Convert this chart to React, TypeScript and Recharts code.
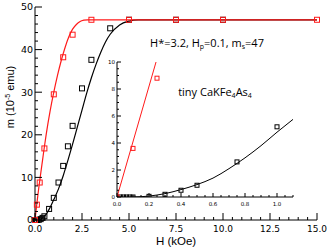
import React from "react";
import { ComposedChart, Line, Scatter, XAxis, YAxis } from "recharts";

// fitted curves (H in kOe, m in 1e-5 emu)
const redFitH = [0, 0.1, 0.2, 0.3, 0.4, 0.5, 0.6, 0.8, 1.0, 1.2, 1.4, 1.6, 1.8, 2.0, 2.2, 2.4, 2.6, 2.8, 3.0, 15];
const redFitM = [0, 3.9, 7.5, 10.8, 14, 17.2, 20.2, 25.5, 30, 34, 37.5, 40.5, 43, 44.8, 45.9, 46.6, 46.9, 47, 47, 47];

const blackFitH = [0, 0.1, 0.2, 0.4, 0.6, 0.8, 1.0, 1.25, 1.5, 1.75, 2.0, 2.25, 2.5, 2.75, 3.0, 3.25, 3.5, 3.75, 4.0, 4.5, 5.0, 5.5, 6.0, 15];
const blackFitM = [0, 0, 0.07, 0.55, 1.4, 2.9, 4.8, 7.3, 10.4, 14, 17.8, 21.8, 25.8, 29.8, 33.4, 36.6, 39.4, 41.8, 43.6, 45.8, 46.7, 47, 47, 47];

// measured points
const redPtsH = [0, 0.1, 0.25, 0.5, 1.0, 1.5, 2.0, 3.0, 5.0, 7.5, 10.0, 15.0];
const redPtsM = [0, 3.6, 8.8, 16.8, 29.5, 38.2, 43.5, 47, 47, 47, 47, 47];

const blackPtsH = [0.02, 0.04, 0.06, 0.08, 0.1, 0.2, 0.3, 0.4, 0.5, 0.75, 1.0, 1.25, 1.5, 1.75, 2.0, 2.5, 3.0, 4.0, 5.0, 7.5, 10.0];
const blackPtsM = [0, 0, 0, 0, 0, 0.05, 0.2, 0.5, 0.87, 2.6, 5.2, 8.8, 12.7, 17.3, 22.1, 30.9, 37.6, 45, 47, 47, 47];

// inset curves (low field zoom)
const insetRedH = [0, 0.25];
const insetRedM = [0, 10.25];
const insetBlackH = [0, 0.1, 0.2, 0.3, 0.4, 0.5, 0.6, 0.7, 0.8, 0.9, 1.0, 1.1];
const insetBlackM = [0, 0, 0.07, 0.25, 0.55, 0.92, 1.4, 2.1, 2.9, 3.8, 4.8, 5.75];

// ticks
const xMajor = [0, 2.5, 5, 7.5, 10, 12.5, 15];
const xTicks = [0, 0.5, 1, 1.5, 2, 2.5, 3, 3.5, 4, 4.5, 5, 5.5, 6, 6.5, 7, 7.5, 8, 8.5, 9, 9.5, 10, 10.5, 11, 11.5, 12, 12.5, 13, 13.5, 14, 14.5, 15];
const yMajor = [0, 10, 20, 30, 40, 50];
const yTicks = [0, 2, 4, 6, 8, 10, 12, 14, 16, 18, 20, 22, 24, 26, 28, 30, 32, 34, 36, 38, 40, 42, 44, 46, 48, 50];

const ixMajor = [0, 0.2, 0.4, 0.6, 0.8, 1.0];
const ixTicks = [0, 0.05, 0.1, 0.15, 0.2, 0.25, 0.3, 0.35, 0.4, 0.45, 0.5, 0.55, 0.6, 0.65, 0.7, 0.75, 0.8, 0.85, 0.9, 0.95, 1.0, 1.05, 1.1];
const iyMajor = [0, 2, 4, 6, 8, 10];
const iyTicks = [0, 0.5, 1, 1.5, 2, 2.5, 3, 3.5, 4, 4.5, 5, 5.5, 6, 6.5, 7, 7.5, 8, 8.5, 9, 9.5, 10];

const zip = (h: number[], m: number[]) => h.map((v, i) => ({ h: v, m: m[i] }));

const redFit = zip(redFitH, redFitM);
const blackFit = zip(blackFitH, blackFitM);
const redPts = zip(redPtsH, redPtsM);
const blackPts = zip(blackPtsH, blackPtsM);
const insetRed = zip(insetRedH, insetRedM);
const insetBlack = zip(insetBlackH, insetBlackM);
const insetRedPts = redPts.filter((d) => d.h <= 1.1 && d.m <= 10);
const insetBlackPts = blackPts.filter((d) => d.h <= 1.1 && d.m <= 10);

const RED = "#ff1a1a";
const TICK_FONT = "DejaVu Sans";

type Side = "bottom" | "top" | "left" | "right";

function makeTick(side: Side, majors: number[], bigLen: number, smallLen: number, fontSize: number, fmt?: (v: number) => string) {
  return (p: any) => {
    const v = p.payload.value;
    const isMajor = majors.some((t) => Math.abs(t - v) < 1e-6);
    const len = isMajor ? bigLen : smallLen;
    const { x, y } = p;
    let line;
    if (side === "bottom") line = <line x1={x} x2={x} y1={y} y2={y - len} stroke="#000" />;
    else if (side === "top") line = <line x1={x} x2={x} y1={y} y2={y + len} stroke="#000" />;
    else if (side === "left") line = <line x1={x} x2={x + len} y1={y} y2={y} stroke="#000" />;
    else line = <line x1={x} x2={x - len} y1={y} y2={y} stroke="#000" />;
    let label = null;
    if (isMajor && fmt) {
      if (side === "bottom")
        label = (
          <text x={x} y={y + fontSize + 3} textAnchor="middle" fontSize={fontSize} fontFamily={TICK_FONT} fill="#000">
            {fmt(v)}
          </text>
        );
      else if (side === "left")
        label = (
          <text x={x - 2} y={y + fontSize * 0.36} textAnchor="end" fontSize={fontSize} fontFamily={TICK_FONT} fill="#000">
            {fmt(v)}
          </text>
        );
    }
    return (
      <g>
        {line}
        {label}
      </g>
    );
  };
}

const square = (color: string, s: number) => (p: any) =>
  <rect x={p.cx - s / 2} y={p.cy - s / 2} width={s} height={s} fill="none" stroke={color} strokeWidth={1} />;

export default function App() {
  return (
    <div style={{ position: "absolute", left: 0, top: 0, width: 327, height: 249, background: "#fff" }}>
      <ComposedChart width={327} height={249} margin={{ top: 7, right: 10, left: 0, bottom: 0 }}>
        <XAxis
          xAxisId={0}
          dataKey="h"
          type="number"
          domain={[0, 15]}
          ticks={xTicks}
          interval={0}
          height={29}
          tickSize={0}
          tickMargin={0}
          tickLine={false}
          axisLine={{ stroke: "#000" }}
          tick={makeTick("bottom", xMajor, 7, 3, 9, (v) => v.toFixed(1))}
        />
        <XAxis
          xAxisId="top"
          orientation="top"
          type="number"
          domain={[0, 15]}
          ticks={xTicks}
          interval={0}
          height={0}
          tickSize={0}
          tickMargin={0}
          tickLine={false}
          axisLine={{ stroke: "#000" }}
          tick={makeTick("top", xMajor, 7, 3, 9)}
        />
        <YAxis
          yAxisId={0}
          dataKey="m"
          type="number"
          domain={[0, 50]}
          ticks={yTicks}
          interval={0}
          width={35}
          tickSize={0}
          tickMargin={0}
          tickLine={false}
          axisLine={{ stroke: "#000" }}
          tick={makeTick("left", yMajor, 7, 3, 9.5, (v) => String(v))}
        />
        <YAxis
          yAxisId="right"
          orientation="right"
          type="number"
          domain={[0, 50]}
          ticks={yTicks}
          interval={0}
          width={0}
          tickSize={0}
          tickMargin={0}
          tickLine={false}
          axisLine={{ stroke: "#000" }}
          tick={makeTick("right", yMajor, 7, 3, 9)}
        />
        <Line data={blackFit} dataKey="m" type="monotone" stroke="#000" strokeWidth={1.2} dot={false} isAnimationActive={false} />
        <Line data={redFit} dataKey="m" type="monotone" stroke={RED} strokeWidth={1.2} dot={false} isAnimationActive={false} />
        <Scatter data={blackPts} dataKey="m" shape={square("#000", 5)} isAnimationActive={false} />
        <Scatter data={redPts} dataKey="m" shape={square(RED, 5)} isAnimationActive={false} />
      </ComposedChart>

      <div style={{ position: "absolute", left: 100, top: 55 }}>
        <ComposedChart width={200} height={152} margin={{ top: 7, right: 7, left: 0, bottom: 0 }}>
          <XAxis
            xAxisId={0}
            dataKey="h"
            type="number"
            domain={[0, 1.1]}
            allowDataOverflow
            ticks={ixTicks}
            interval={0}
            height={10}
            tickSize={0}
            tickMargin={0}
            tickLine={false}
            axisLine={{ stroke: "#000" }}
            tick={makeTick("bottom", ixMajor, 4, 2, 5.5, (v) => v.toFixed(1))}
          />
          <XAxis
            xAxisId="top"
            orientation="top"
            type="number"
            domain={[0, 1.1]}
            ticks={ixTicks}
            interval={0}
            height={0}
            tickSize={0}
            tickMargin={0}
            tickLine={false}
            axisLine={{ stroke: "#000" }}
            tick={makeTick("top", ixMajor, 4, 2, 5.5)}
          />
          <YAxis
            yAxisId={0}
            dataKey="m"
            type="number"
            domain={[0, 10]}
            allowDataOverflow
            ticks={iyTicks}
            interval={0}
            width={17}
            tickSize={0}
            tickMargin={0}
            tickLine={false}
            axisLine={{ stroke: "#000" }}
            tick={makeTick("left", iyMajor, 4, 2, 5.5, (v) => String(v))}
          />
          <YAxis
            yAxisId="right"
            orientation="right"
            type="number"
            domain={[0, 10]}
            ticks={iyTicks}
            interval={0}
            width={0}
            tickSize={0}
            tickMargin={0}
            tickLine={false}
            axisLine={{ stroke: "#000" }}
            tick={makeTick("right", iyMajor, 4, 2, 5.5)}
          />
          <Line data={insetBlack} dataKey="m" type="monotone" stroke="#000" strokeWidth={1} dot={false} isAnimationActive={false} />
          <Line data={insetRed} dataKey="m" type="linear" stroke={RED} strokeWidth={1} dot={false} isAnimationActive={false} />
          <Scatter data={insetBlackPts} dataKey="m" shape={square("#000", 4)} isAnimationActive={false} />
          <Scatter data={insetRedPts} dataKey="m" shape={square(RED, 4)} isAnimationActive={false} />
        </ComposedChart>
      </div>

      <svg width={327} height={249} style={{ position: "absolute", left: 0, top: 0, pointerEvents: "none" }}>
        <text transform="translate(14,97) rotate(-90)" textAnchor="middle" fontSize={11} fontFamily="Liberation Sans">
          m (10<tspan dy={-4} fontSize={7}>-5</tspan>
          <tspan dy={4}> emu)</tspan>
        </text>
        <text x={176} y={245} textAnchor="middle" fontSize={11.5} fontFamily="Liberation Sans">
          H (kOe)
        </text>
        <text x={207} y={47} textAnchor="middle" fontSize={11} fontFamily="Open Sans">
          H*=3.2, H<tspan dy={2} fontSize={7}>p</tspan>
          <tspan dy={-2}>=0.1, m</tspan>
          <tspan dy={2} fontSize={7}>s</tspan>
          <tspan dy={-2}>=47</tspan>
        </text>
        <text x={215} y={96} textAnchor="middle" fontSize={11} fontFamily="Open Sans">
          tiny CaKFe<tspan dy={2} fontSize={7}>4</tspan>
          <tspan dy={-2}>As</tspan>
          <tspan dy={2} fontSize={7}>4</tspan>
        </text>
      </svg>
    </div>
  );
}
